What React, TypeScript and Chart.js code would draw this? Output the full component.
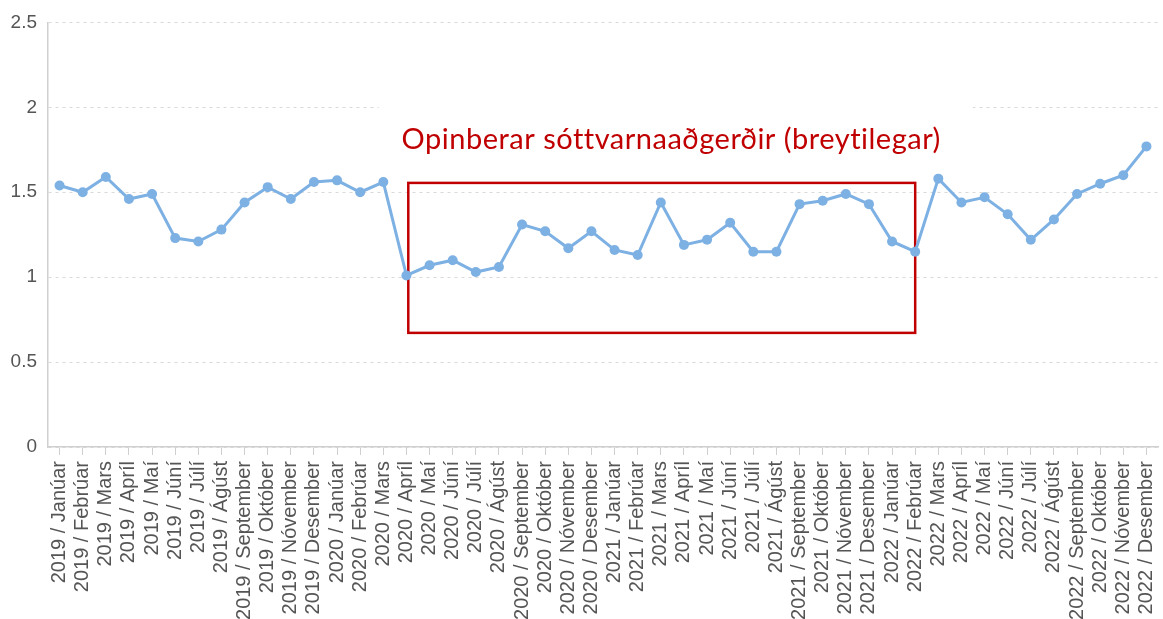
import React, { useEffect, useRef } from "react";
import { Chart, registerables } from "chart.js";

Chart.register(...registerables);

const years = ["2019", "2020", "2021", "2022"];
const months = ["Janúar", "Febrúar", "Mars", "Apríl", "Maí", "Júní", "Júlí", "Ágúst", "September", "Október", "Nóvember", "Desember"];
const categories: string[] = years.flatMap((y) => months.map((m) => `${y} / ${m}`));

const values = [
  1.54, 1.5, 1.59, 1.46, 1.49, 1.23, 1.21, 1.28, 1.44, 1.53, 1.46, 1.56,
  1.57, 1.5, 1.56, 1.01, 1.07, 1.1, 1.03, 1.06, 1.31, 1.27, 1.17, 1.27,
  1.16, 1.13, 1.44, 1.19, 1.22, 1.32, 1.15, 1.15, 1.43, 1.45, 1.49, 1.43,
  1.21, 1.15, 1.58, 1.44, 1.47, 1.37, 1.22, 1.34, 1.49, 1.55, 1.6, 1.77,
];

const yTicks = [0, 0.5, 1, 1.5, 2, 2.5];

const annotationText = "Opinberar sóttvarnaaðgerðir (breytilegar)";
// Annotation positions in data units (category index, value)
const boxX = [15.08, 37];
const boxY = [0.672, 1.555];
const textPos = { x: 26.45, y: 1.81 };
const textBg = { x: [13.8, 39.5], y: [2.12, 1.6] };

const LINE = "#7db0e3";
const RED = "#c00000";

const annotationPlugin = {
  id: "boxAnnotation",
  beforeDatasetsDraw(chart: any) {
    const { ctx, scales } = chart;
    const xs = scales.x, ys = scales.y;
    ctx.save();
    // white background behind text
    ctx.fillStyle = "#ffffff";
    const bx1 = xs.getPixelForValue(textBg.x[0]);
    const bx2 = xs.getPixelForValue(textBg.x[1]);
    const by1 = ys.getPixelForValue(textBg.y[0]);
    const by2 = ys.getPixelForValue(textBg.y[1]);
    ctx.fillRect(bx1, by1, bx2 - bx1, by2 - by1);
    // red box
    const x1 = xs.getPixelForValue(boxX[0]);
    const x2 = xs.getPixelForValue(boxX[1]);
    const y1 = ys.getPixelForValue(boxY[1]);
    const y2 = ys.getPixelForValue(boxY[0]);
    ctx.strokeStyle = RED;
    ctx.lineWidth = 2.5;
    ctx.strokeRect(x1, y1, x2 - x1, y2 - y1);
    // text
    ctx.fillStyle = RED;
    ctx.font = "29px Lato";
    try {
      (ctx as any).letterSpacing = "0.5px";
    } catch (e) {}
    ctx.textAlign = "center";
    ctx.textBaseline = "middle";
    ctx.fillText(annotationText, xs.getPixelForValue(textPos.x), ys.getPixelForValue(textPos.y));
    ctx.restore();
  },
};

export default function App() {
  const ref = useRef<HTMLCanvasElement>(null);
  useEffect(() => {
    if (!ref.current) return;
    const chart = new Chart(ref.current, {
      type: "line",
      data: {
        labels: categories,
        datasets: [
          {
            data: values,
            borderColor: LINE,
            backgroundColor: LINE,
            borderWidth: 3,
            pointRadius: 5,
            pointBorderWidth: 0,
            pointBackgroundColor: LINE,
            tension: 0,
          },
        ],
      },
      plugins: [annotationPlugin],
      options: {
        animation: false,
        responsive: false,
        layout: { padding: { top: 19, right: 4, left: 0, bottom: 0 } },
        plugins: { legend: { display: false }, tooltip: { enabled: false } },
        scales: {
          x: {
            type: "category",
            offset: true,
            grid: { drawOnChartArea: false, drawTicks: true, tickLength: 8, tickColor: "#cfcfcf", color: "#cfcfcf" },
            border: { color: "#cfcfcf", width: 1.5 },
            ticks: {
              autoSkip: false,
              minRotation: 90,
              maxRotation: 90,
              padding: 6,
              color: "#555555",
              font: { family: "'Liberation Sans', Arial", size: 20 },
            },
            afterFit(scale: any) {
              scale.height = 172;
              scale.paddingLeft = 0;
              scale.paddingRight = 0;
            },
          },
          y: {
            min: 0,
            max: 2.5,
            afterBuildTicks(scale: any) {
              scale.ticks = yTicks.map((v) => ({ value: v }));
            },
            grid: { color: "#d9d9d9", drawTicks: false, lineWidth: 1 },
            border: { color: "#cfcfcf", width: 1.5, dash: [3, 4] },
            ticks: {
              padding: 11,
              color: "#555555",
              font: { family: "'Liberation Sans', Arial", size: 19 },
              callback: (v: any) => String(v),
            },
            afterFit(scale: any) {
              scale.width = 48;
            },
          },
        },
      },
    });
    return () => chart.destroy();
  }, []);
  return (
    <div style={{ position: "absolute", left: 0, top: 0, width: 1163, height: 619, background: "#fff" }}>
      <canvas ref={ref} width={1163} height={619} />
    </div>
  );
}
